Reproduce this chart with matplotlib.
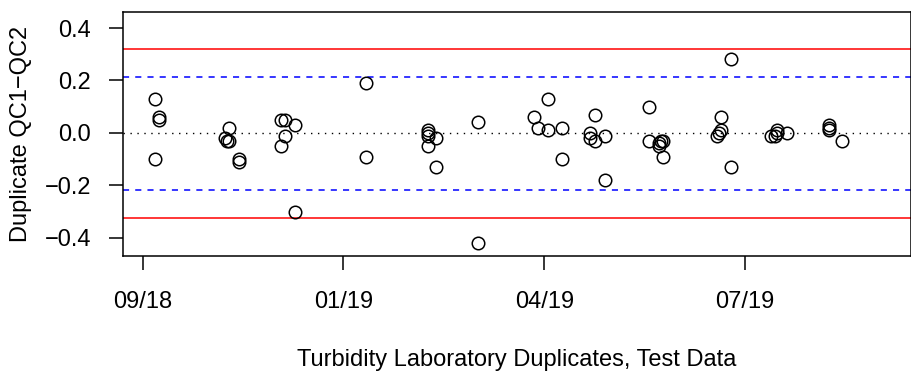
import numpy as np
import pandas as pd
import matplotlib
matplotlib.use('Agg')
import matplotlib.pyplot as plt
import matplotlib.dates as mdates

plt.rcParams['font.family'] = ['Liberation Sans', 'DejaVu Sans']

# duplicate sample dates and QC1-QC2 differences
dates = ['2018-10-02', '2018-10-02', '2018-10-04', '2018-10-04',
         '2018-11-06', '2018-11-07', '2018-11-08', '2018-11-08',
         '2018-11-13', '2018-11-13',
         '2018-12-04', '2018-12-04', '2018-12-06', '2018-12-06',
         '2018-12-11', '2018-12-11',
         '2019-01-15', '2019-01-15',
         '2019-02-15', '2019-02-15', '2019-02-15', '2019-02-15',
         '2019-02-19', '2019-02-19',
         '2019-03-12', '2019-03-12',
         '2019-04-09', '2019-04-11', '2019-04-16', '2019-04-16',
         '2019-04-23', '2019-04-23',
         '2019-05-07', '2019-05-07', '2019-05-09', '2019-05-09',
         '2019-05-14', '2019-05-14',
         '2019-06-05', '2019-06-05', '2019-06-10', '2019-06-10',
         '2019-06-11', '2019-06-12', '2019-06-12',
         '2019-07-09', '2019-07-10', '2019-07-11', '2019-07-11',
         '2019-07-16', '2019-07-16',
         '2019-08-05', '2019-08-07', '2019-08-08', '2019-08-08',
         '2019-08-13',
         '2019-09-03', '2019-09-03', '2019-09-03', '2019-09-09']
diffs = [0.13, -0.10, 0.06, 0.05,
         -0.02, -0.03, -0.03, 0.02,
         -0.10, -0.11,
         0.05, -0.05, 0.05, -0.01,
         0.03, -0.30,
         0.19, -0.09,
         0.01, 0.00, -0.01, -0.05,
         -0.02, -0.13,
         0.04, -0.42,
         0.06, 0.02, 0.13, 0.01,
         0.02, -0.10,
         0.00, -0.02, 0.07, -0.03,
         -0.01, -0.18,
         0.10, -0.03, -0.04, -0.05,
         -0.03, -0.03, -0.09,
         -0.01, 0.00, 0.06, 0.01,
         0.28, -0.13,
         -0.01, -0.01, 0.01, 0.00,
         0.00,
         0.03, 0.02, 0.01, -0.03]

# control limits
warn_lo, warn_hi = -0.217, 0.213
ctrl_lo, ctrl_hi = -0.325, 0.32

tick_dates = ['2018-09-26', '2019-01-04', '2019-04-14', '2019-07-23']
y_ticks = [-0.4, -0.2, 0.0, 0.2, 0.4]

x = mdates.date2num(pd.to_datetime(dates))

fig = plt.figure(figsize=(9.12, 3.74), dpi=100)
ax = fig.add_axes([123/912, 1 - 256/374, 788/912, 244/374])

ax.axhline(ctrl_hi, color='red', lw=1.1)
ax.axhline(ctrl_lo, color='red', lw=1.1)
ax.axhline(warn_hi, color='blue', lw=1.1, dashes=(4, 4))
ax.axhline(warn_lo, color='blue', lw=1.1, dashes=(4, 4))
ax.axhline(0, color='black', lw=1.0, dashes=(1, 4))

ax.plot(x, diffs, 'o', mfc='none', mec='black', ms=9, mew=1.1)

ax.set_xlim(mdates.date2num(pd.Timestamp('2018-09-26')) - 9.8,
            mdates.date2num(pd.Timestamp('2018-09-26')) + 382.6)
ax.set_ylim(-0.469, 0.461)

ax.set_xticks(mdates.date2num(pd.to_datetime(tick_dates)))
ax.xaxis.set_major_formatter(mdates.DateFormatter('%m/%y'))
ax.set_yticks(y_ticks)
ax.set_yticklabels(['−0.4', '−0.2', '0.0', '0.2', '0.4'])

ax.tick_params(axis='both', labelsize=17, length=10, width=1.1)
ax.tick_params(axis='x', pad=15)
ax.tick_params(axis='y', pad=13)
for s in ax.spines.values():
    s.set_linewidth(1.1)

fig.text(0.5 * (123 + 911) / 912, 1 - 360/374,
         'Turbidity Laboratory Duplicates, Test Data',
         ha='center', va='center', fontsize=17)
fig.text(21/912, 1 - 134/374, 'Duplicate QC1−QC2', rotation=90,
         ha='center', va='center', fontsize=17)

fig.savefig('out.png', dpi=100)
